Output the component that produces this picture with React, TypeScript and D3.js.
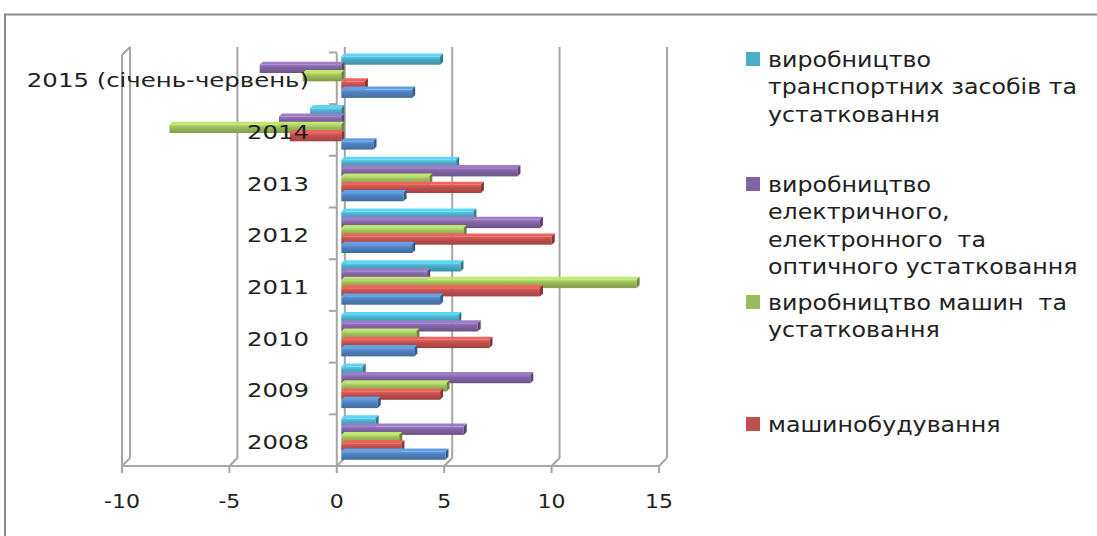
import React from 'react';
import * as d3 from 'd3';

const categories = ['2008', '2009', '2010', '2011', '2012', '2013', '2014', '2015 (січень-червень)'];
const seriesKeys = ['transport', 'electrical', 'machinery', 'engineering', 'industry'];
const seriesColors = ['#4BACC6', '#8064A2', '#9BBB59', '#C0504D', '#4F81BD'];
const transport = [1.6, 1.0, 5.45, 5.55, 6.15, 5.35, -1.45, 4.6];
const electrical = [5.7, 8.8, 6.35, 4.0, 9.25, 8.2, -2.9, -3.8];
const machinery = [2.7, 4.9, 3.5, 13.75, 5.7, 4.1, -8.0, -1.8];
const engineering = [2.8, 4.6, 6.9, 9.25, 9.8, 6.5, -2.4, 1.1];
const industry = [4.85, 1.7, 3.4, 4.6, 3.3, 2.9, 1.5, 3.3];
const seriesValues = [transport, electrical, machinery, engineering, industry];
const xTicks = [-10, -5, 0, 5, 10, 15];

const legendLines = [
  ['виробництво', 'транспортних засобів та', 'устатковання'],
  ['виробництво', 'електричного,', 'електронного  та', 'оптичного устатковання'],
  ['виробництво машин  та', 'устатковання'],
  ['машинобудування'],
];
const legendStartY = [59, 184, 302, 424];

const W = 1097, H = 536;
const FONT = 'DejaVu Sans, Verdana, sans-serif';

function shade(c: string, k: number) {
  const col = d3.color(c)!;
  return k > 0 ? col.brighter(k).formatHex() : col.darker(-k).formatHex();
}

export default function App() {
  const x = d3.scaleLinear().domain([-10, 15]).range([122, 659]);
  const floorY = 466;
  const dx = 8, dy = -8;
  const topY = 47;
  const y = d3.scaleBand<string>().domain([...categories].reverse()).range([52.4, floorY]);
  const bw = y.bandwidth();
  const barH = 8.3;
  const barOff = 4.5;
  const gridColor = '#a6a6a6';

  const bars: JSX.Element[] = [];
  categories.forEach((cat, ci) => {
    const y0 = (y(cat) as number) + 4;
    seriesKeys.forEach((k, si) => {
      const v = seriesValues[si][ci];
      const by = y0 + si * barH;
      const xa = x(0) + barOff;
      const xb = x(v) + barOff;
      const x0 = Math.min(xa, xb), x1 = Math.max(xa, xb);
      const c = seriesColors[si];
      const d = 3;
      bars.push(
        <g key={cat + k}>
          <polygon points={`${x0},${by} ${x0 + d},${by - d} ${x1 + d},${by - d} ${x1},${by}`} fill={shade(c, 0.6)} />
          <rect x={x0} y={by} width={x1 - x0} height={barH} fill={`url(#g${si})`} />
          <polygon points={`${x1},${by} ${x1 + d},${by - d} ${x1 + d},${by + barH - d} ${x1},${by + barH}`} fill={shade(c, -1)} />
        </g>
      );
    });
  });

  return (
    <svg width={W} height={H} style={{ position: 'absolute', left: 0, top: 0, background: '#fff' }} fontFamily={FONT}>
      <defs>
        {seriesColors.map((c, i) => (
          <linearGradient key={i} id={`g${i}`} x1="0" y1="0" x2="0" y2="1">
            <stop offset="0" stopColor={shade(c, 0.5)} />
            <stop offset="0.35" stopColor={c} />
            <stop offset="1" stopColor={shade(c, -0.5)} />
          </linearGradient>
        ))}
      </defs>
      <rect x={0} y={0} width={W} height={H} fill="#fff" />
      <path d={`M5,${H} L5,14.5 L${W},14.5`} fill="none" stroke="#8a8a8a" strokeWidth={2} />

      {xTicks.map((t) => (
        <g key={t}>
          <line x1={x(t) + dx} y1={topY} x2={x(t) + dx} y2={floorY + dy} stroke={gridColor} strokeWidth={2} />
          <line x1={x(t)} y1={floorY} x2={x(t) + dx} y2={floorY + dy} stroke={gridColor} strokeWidth={2} />
          <line x1={x(t)} y1={floorY} x2={x(t)} y2={floorY + 7} stroke={gridColor} strokeWidth={2} />
          <text transform={`translate(${x(t)},508) scale(1.1,1)`} textAnchor="middle" fontSize={20} fill="#222">{t}</text>
        </g>
      ))}
      <line x1={x(-10)} y1={topY - dy} x2={x(-10)} y2={floorY} stroke={gridColor} strokeWidth={2} />
      <line x1={x(-10)} y1={topY - dy} x2={x(-10) + dx} y2={topY} stroke={gridColor} strokeWidth={2} />
      <line x1={x(-10)} y1={floorY} x2={x(15)} y2={floorY} stroke={gridColor} strokeWidth={2} />

      <line x1={x(0)} y1={52.4} x2={x(0)} y2={floorY} stroke={gridColor} strokeWidth={2} />
      {[...categories].reverse().map((cat) => (
        <line key={cat} x1={x(0) - 8} y1={y(cat) as number} x2={x(0)} y2={y(cat) as number} stroke={gridColor} strokeWidth={2} />
      ))}

      {bars}

      {categories.map((cat) => (
        <text key={cat} transform={`translate(309,${(y(cat) as number) + bw / 2 + 9}) scale(1.22,1)`} textAnchor="end" fontSize={20} fill="#222">{cat}</text>
      ))}

      {legendLines.map((lines, i) => (
        <g key={i}>
          <rect x={746} y={legendStartY[i] - 7} width={14} height={14} fill={seriesColors[i]} />
          {lines.map((ln, j) => (
            <text key={j} transform={`translate(768,${legendStartY[i] + j * 27.3 + 8}) scale(1.13,1)`} fontSize={21} fill="#222" style={{ whiteSpace: 'pre' }}>{ln}</text>
          ))}
        </g>
      ))}
    </svg>
  );
}
